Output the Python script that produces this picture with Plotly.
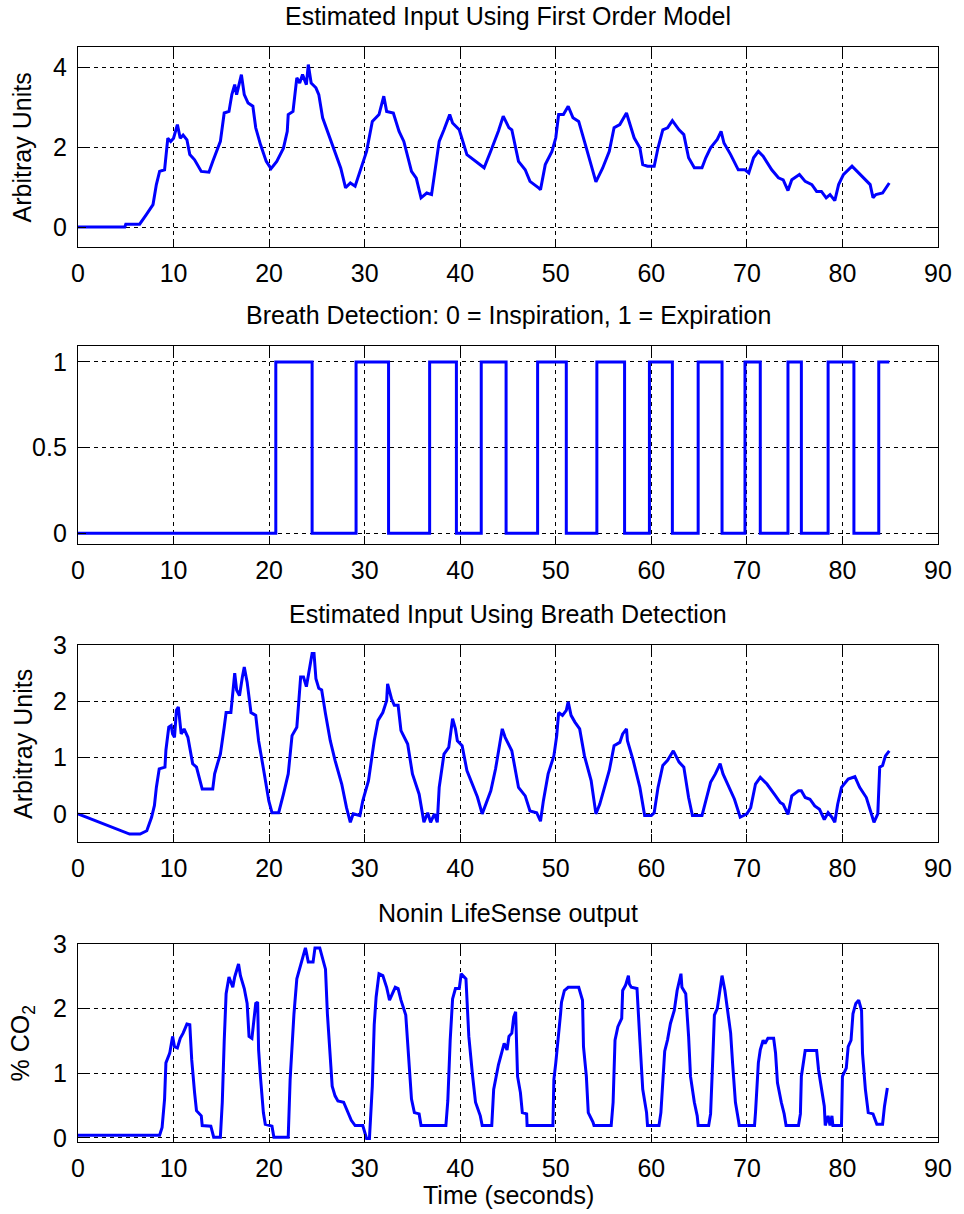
import plotly.graph_objects as go
from plotly.subplots import make_subplots

# ---- Estimated input, first order model (time s, arbitrary units) ----
t_first = [0, 4.9, 5.0, 6.45, 7.15, 7.85, 8.2, 8.54, 9.06, 9.2, 9.4, 9.7, 10.0, 10.4, 10.7, 11.0,
           11.4, 11.7, 12.2, 12.9, 13.7, 14.1, 14.6, 14.9, 15.3, 15.8, 16.1, 16.4, 16.6, 17.1,
           17.4, 17.8, 18.3, 18.6, 19.1, 19.7, 20.2, 20.8, 21.5, 21.9, 22.0, 22.5, 22.9, 23.2,
           23.5, 23.9, 24.1, 24.4, 24.9, 25.2, 25.6, 26.1, 26.8, 27.5, 28.0, 28.5, 29.0, 29.6,
           30.2, 30.8, 31.5, 32.0, 32.3, 33.0, 33.6, 34.1, 34.9, 35.4, 35.9, 36.5, 37.0, 37.3,
           37.8, 38.3, 38.9, 39.2, 39.9, 40.7, 41.8, 42.5, 43.2, 44.0, 44.5, 45.1, 45.4, 46.1,
           46.8, 47.3, 48.2, 48.4, 48.9, 49.6, 50.0, 50.3, 50.8, 51.3, 51.8, 52.4, 53.0, 53.7,
           54.2, 54.9, 55.6, 56.1, 56.7, 57.4, 57.7, 58.2, 58.8, 59.1, 59.6, 60.3, 60.7, 61.2,
           61.7, 62.2, 62.9, 63.4, 63.9, 64.5, 65.3, 65.7, 66.2, 66.9, 67.3, 67.6, 68.3, 69.1,
           69.8, 70.2, 70.7, 71.2, 71.7, 72.6, 73.3, 73.8, 74.3, 74.7, 75.5, 76.1, 76.8, 77.3,
           77.8, 78.3, 78.7, 79.2, 79.6, 80.1, 81.0, 82.2, 82.9, 83.2, 83.5, 84.2, 84.9]
u_first = [0.0, 0.0, 0.07, 0.07, 0.31, 0.56, 1.06, 1.39, 1.43, 1.72, 2.22, 2.14, 2.22, 2.56, 2.22, 2.3,
           2.18, 1.81, 1.68, 1.39, 1.37, 1.64, 1.97, 2.14, 2.85, 2.89, 3.31, 3.56, 3.31, 3.81,
           3.31, 3.1, 3.02, 2.48, 2.06, 1.64, 1.46, 1.64, 1.97, 2.39, 2.81, 2.89, 3.73, 3.6,
           3.81, 3.56, 4.06, 3.6, 3.48, 3.31, 2.73, 2.39, 1.89, 1.47, 0.98, 1.1, 1.02, 1.47,
           1.89, 2.64, 2.81, 3.27, 2.89, 2.85, 2.39, 2.14, 1.39, 1.22, 0.73, 0.85, 0.81, 1.31,
           2.14, 2.43, 2.81, 2.6, 2.43, 1.81, 1.6, 1.48, 1.9, 2.4, 2.77, 2.48, 2.43, 1.64,
           1.43, 1.14, 0.98, 0.93, 1.56, 1.89, 2.23, 2.81, 2.81, 3.02, 2.73, 2.64, 2.14, 1.56,
           1.13, 1.47, 1.89, 2.48, 2.56, 2.85, 2.6, 2.23, 1.98, 1.56, 1.52, 1.52, 1.98, 2.43,
           2.48, 2.66, 2.43, 2.31, 1.73, 1.48, 1.48, 1.73, 1.98, 2.19, 2.39, 2.1, 1.81, 1.43,
           1.43, 1.35, 1.73, 1.89, 1.77, 1.43, 1.23, 1.18, 0.91, 1.18, 1.31, 1.14, 1.06, 0.89,
           0.89, 0.73, 0.81, 0.66, 1.06, 1.31, 1.52, 1.23, 1.06, 0.73, 0.81, 0.85, 1.1]

# ---- Breath detection: 0 = inspiration, 1 = expiration ----
t_breath = [0, 20.7, 24.5, 29.1, 32.5, 36.8, 39.6, 42.2, 44.8, 48.1, 51.1, 54.3, 57.2, 59.8,
            62.2, 64.9, 67.4, 69.8, 71.4, 74.3, 75.7, 78.5, 81.2, 83.8, 84.9]
s_breath = [0, 1, 0, 1, 0, 1, 0, 1, 0, 1, 0, 1, 0, 1,
            0, 1, 0, 1, 0, 1, 0, 1, 0, 1, 1]

# ---- Estimated input using breath detection ----
t_detect = [0, 5.4, 6.5, 7.2, 7.7, 8.0, 8.2, 8.5, 9.1, 9.2, 9.5, 9.75, 9.9, 10.1, 10.3, 10.5,
            10.8, 11.1, 11.5, 12.0, 12.4, 13.0, 14.1, 14.3, 14.6, 14.9, 15.3, 15.5, 16.0, 16.2,
            16.4, 16.6, 16.9, 17.2, 17.4, 17.7, 18.1, 18.6, 18.9, 19.5, 19.97, 20.3, 21.0, 21.5,
            22.0, 22.4, 22.9, 23.3, 23.6, 23.9, 24.2, 24.5, 24.7, 24.9, 25.2, 25.5, 25.9, 26.4,
            26.9, 27.6, 28.1, 28.5, 28.8, 29.5, 29.8, 30.4, 31.0, 31.4, 31.9, 32.3, 32.4, 32.8,
            33.1, 33.5, 33.8, 34.5, 35.0, 35.7, 36.2, 36.6, 36.9, 37.3, 37.6, 37.8, 38.3, 38.8,
            39.2, 39.5, 39.7, 40.2, 40.7, 41.4, 41.8, 42.3, 43.2, 43.7, 44.4, 44.7, 45.4, 46.1,
            46.8, 47.3, 48.0, 48.4, 48.7, 49.2, 49.8, 50.1, 50.3, 50.7, 51.1, 51.3, 51.6, 52.0,
            52.5, 53.0, 53.7, 54.2, 54.6, 55.1, 55.6, 56.1, 56.7, 57.0, 57.4, 57.5, 58.1, 58.8,
            59.3, 60.0, 60.3, 60.7, 61.2, 61.7, 62.3, 62.9, 63.4, 63.9, 64.3, 65.3, 65.7, 66.2,
            66.7, 67.2, 67.5, 68.1, 68.7, 69.3, 70.0, 70.4, 70.9, 71.4, 72.1, 73.0, 73.5, 73.8,
            74.3, 74.7, 75.4, 75.7, 76.1, 76.6, 77.1, 77.6, 78.1, 78.5, 78.9, 79.2, 79.5, 79.9,
            80.6, 81.3, 81.8, 82.5, 83.0, 83.3, 83.7, 83.9, 84.2, 84.5, 84.9]
u_detect = [0.0, -0.36, -0.36, -0.3, -0.06, 0.15, 0.47, 0.8, 0.83, 1.13, 1.54, 1.57, 1.42, 1.36, 1.84, 1.9,
            1.42, 1.51, 1.36, 0.89, 0.83, 0.44, 0.44, 0.71, 0.89, 1.06, 1.54, 1.8, 1.8, 2.2,
            2.5, 2.2, 2.1, 2.43, 2.61, 2.34, 1.8, 1.75, 1.3, 0.71, 0.23, 0.02, 0.02, 0.35,
            0.71, 1.39, 1.54, 2.43, 2.43, 2.26, 2.52, 2.85, 2.85, 2.4, 2.23, 2.2, 1.78, 1.3,
            0.95, 0.53, 0.11, -0.15, 0.0, -0.03, 0.23, 0.59, 1.3, 1.66, 1.8, 2.01, 2.31, 2.05,
            1.93, 1.93, 1.48, 1.24, 0.71, 0.35, -0.15, 0.02, -0.15, 0.0, -0.15, 0.47, 1.06, 1.18,
            1.69, 1.51, 1.3, 1.21, 0.77, 0.47, 0.3, 0.0, 0.41, 0.8, 1.51, 1.36, 1.12, 0.47,
            0.32, 0.05, 0.02, -0.13, 0.23, 0.71, 1.03, 1.39, 1.8, 1.75, 1.84, 1.99, 1.75, 1.63,
            1.51, 1.03, 0.59, 0.0, 0.17, 0.47, 0.77, 1.21, 1.27, 1.42, 1.51, 1.3, 0.95, 0.47,
            -0.03, -0.03, 0.02, 0.47, 0.86, 0.95, 1.12, 0.92, 0.83, 0.29, -0.03, -0.03, 0.23, 0.56,
            0.71, 0.89, 0.71, 0.47, 0.26, -0.06, 0.0, 0.11, 0.53, 0.65, 0.53, 0.32, 0.2, 0.17,
            -0.01, 0.32, 0.41, 0.41, 0.29, 0.26, 0.14, 0.08, -0.1, 0.02, -0.06, -0.15, 0.17, 0.47,
            0.62, 0.66, 0.47, 0.29, 0.0, -0.15, 0.0, 0.83, 0.86, 1.03, 1.12]

# ---- Nonin LifeSense output (% CO2) ----
t_co2 = [0, 8.54, 8.8, 9.06, 9.2, 9.6, 9.9, 10.1, 10.4, 10.7, 11.0, 11.4, 11.7, 11.9, 12.2, 12.4,
         12.9, 13.0, 13.9, 14.2, 14.9, 15.1, 15.3, 15.5, 15.8, 16.2, 16.4, 16.8, 17.0, 17.4,
         17.7, 17.9, 18.2, 18.6, 18.8, 18.9, 19.1, 19.4, 19.6, 20.3, 20.5, 22.0, 22.2, 22.6,
         22.9, 23.4, 23.8, 23.9, 24.1, 24.6, 24.8, 25.3, 25.9, 26.1, 26.4, 26.6, 26.9, 27.2,
         27.8, 28.1, 28.6, 29.0, 29.8, 30.2, 30.5, 30.8, 31.0, 31.2, 31.5, 31.9, 32.3, 32.6,
         32.96, 33.2, 33.5, 33.8, 34.3, 34.5, 34.9, 35.2, 35.7, 35.9, 38.5, 38.7, 38.95, 39.2,
         39.5, 39.9, 40.1, 40.6, 40.9, 41.3, 41.6, 42.1, 42.3, 43.3, 43.5, 44.0, 44.4, 44.6,
         44.9, 45.1, 45.4, 45.6, 45.8, 45.9, 46.0, 46.3, 46.5, 46.95, 47.0, 49.7, 49.8, 50.0,
         50.3, 50.5, 50.6, 50.9, 51.3, 52.4, 52.8, 52.9, 53.2, 53.4, 53.9, 54.0, 55.8, 56.0,
         56.2, 56.5, 56.9, 57.0, 57.3, 57.6, 57.7, 57.9, 58.5, 58.6, 58.8, 59.1, 59.5, 59.6,
         60.8, 61.0, 61.4, 61.7, 62.0, 62.4, 62.7, 63.1, 63.2, 63.6, 63.9, 64.1, 64.5, 64.8,
         64.9, 66.0, 66.2, 66.4, 66.6, 66.9, 67.2, 67.4, 67.7, 67.9, 68.3, 68.5, 68.8, 69.15,
         69.2, 70.8, 70.9, 71.2, 71.4, 71.7, 71.9, 72.2, 72.8, 73.0, 73.2, 73.6, 73.9, 74.1,
         75.4, 75.6, 75.7, 76.1, 77.3, 77.5, 77.8, 78.1, 78.2, 78.5, 78.7, 78.9, 79.0, 79.9,
         80.0, 80.4, 80.6, 80.9, 81.1, 81.4, 81.7, 82.0, 82.1, 82.4, 82.7, 83.2, 83.6, 84.2,
         84.4, 84.7]
co2 = [0.04, 0.04, 0.16, 0.6, 1.16, 1.31, 1.57, 1.41, 1.39, 1.54, 1.62, 1.76, 1.75, 1.21, 0.7, 0.42,
       0.34, 0.19, 0.18, 0.01, 0.01, 0.55, 1.49, 2.23, 2.49, 2.33, 2.49, 2.69, 2.51, 2.31,
       2.08, 1.57, 1.54, 2.08, 2.1, 1.36, 0.93, 0.39, 0.21, 0.18, 0.01, 0.01, 0.9, 1.92,
       2.46, 2.74, 2.94, 2.87, 2.72, 2.72, 2.94, 2.94, 2.61, 1.92, 1.16, 0.8, 0.65, 0.57,
       0.55, 0.44, 0.27, 0.19, 0.19, -0.01, -0.01, 0.8, 1.75, 2.18, 2.54, 2.51, 2.33, 2.13,
       2.25, 2.33, 2.31, 2.13, 1.9, 1.51, 0.6, 0.39, 0.37, 0.19, 0.19, 0.57, 1.51, 2.15,
       2.31, 2.31, 2.54, 2.46, 1.57, 0.95, 0.55, 0.34, 0.19, 0.19, 0.75, 1.13, 1.36, 1.46,
       1.36, 1.57, 1.62, 1.87, 1.95, 1.57, 0.95, 0.7, 0.39, 0.37, 0.19, 0.19, 0.9, 1.16,
       1.57, 1.92, 2.1, 2.28, 2.33, 2.33, 2.13, 1.41, 0.95, 0.39, 0.24, 0.19, 0.19, 0.55,
       1.51, 1.72, 1.85, 2.28, 2.36, 2.51, 2.38, 2.33, 2.31, 2.08, 1.51, 0.75, 0.39, 0.19,
       0.19, 0.39, 1.34, 1.52, 1.77, 1.97, 2.28, 2.54, 2.33, 2.23, 1.57, 0.95, 0.55, 0.34,
       0.19, 0.19, 0.37, 1.11, 1.9, 2.0, 2.31, 2.51, 2.28, 2.08, 1.62, 1.16, 0.55, 0.24,
       0.19, 0.19, 0.39, 1.16, 1.36, 1.51, 1.46, 1.54, 1.54, 1.31, 0.85, 0.55, 0.37, 0.19,
       0.19, 0.37, 0.95, 1.35, 1.35, 1.05, 0.75, 0.49, 0.19, 0.34, 0.19, 0.34, 0.19, 0.19,
       0.95, 1.08, 1.41, 1.51, 1.92, 2.08, 2.13, 1.97, 1.31, 0.75, 0.39, 0.37, 0.21, 0.21,
       0.49, 0.77]

titles = ["Estimated Input Using First Order Model",
          "Breath Detection: 0 = Inspiration, 1 = Expiration",
          "Estimated Input Using Breath Detection",
          "Nonin LifeSense output"]
y_titles = ["Arbitray Units", None, "Arbitray Units", "% CO<sub>2</sub>"]
x_ticks = [0, 10, 20, 30, 40, 50, 60, 70, 80, 90]
y_ticks = [[0, 2, 4], [0, 0.5, 1], [0, 1, 2, 3], [0, 1, 2, 3]]
y_ranges = [[-0.5, 4.5], [-0.063, 1.093], [-0.5, 3.0], [-0.065, 3.0]]
x_title = "Time (seconds)"

# ---- page geometry (pixels) ----
W, H = 964, 1214
M_L, M_R, M_T, M_B = 78, 20, 47, 72
plot_h = H - M_T - M_B
boxes = [(47, 247), (346, 544), (645, 842), (944, 1142)]  # top, bottom in page px


def to_paper(ypix):
    return (H - M_B - ypix) / plot_h


FONT = "Liberation Sans, Arial, Helvetica, sans-serif"
FS = 25
BLUE = "#0000ff"

fig = make_subplots(rows=4, cols=1)

series = [(t_first, u_first, "linear"), (t_breath, s_breath, "hv"),
          (t_detect, u_detect, "linear"), (t_co2, co2, "linear")]
for i, (tx, vy, shape) in enumerate(series):
    fig.add_trace(go.Scatter(x=tx, y=vy, mode="lines", line=dict(color=BLUE, width=3, shape=shape),
                             showlegend=False, hoverinfo="skip"), row=i + 1, col=1)

axis_common = dict(showline=True, linecolor="black", linewidth=1.3, mirror="ticks",
                   ticks="inside", ticklen=8, tickwidth=1.3, tickcolor="black",
                   showgrid=True, gridcolor="black", gridwidth=1.2, griddash="4px,4px",
                   zeroline=False, tickfont=dict(family=FONT, size=FS, color="black"))

annotations = []
for i in range(4):
    top, bot = boxes[i]
    xa = "xaxis" if i == 0 else f"xaxis{i + 1}"
    ya = "yaxis" if i == 0 else f"yaxis{i + 1}"
    fig.layout[xa].update(domain=[0, 1], range=[0, 90], tickvals=x_ticks,
                          ticklabelstandoff=4, **axis_common)
    fig.layout[ya].update(domain=[to_paper(bot), to_paper(top)], range=y_ranges[i],
                          tickvals=y_ticks[i], ticklabelstandoff=5, **axis_common)
    annotations.append(dict(text=titles[i], xref="paper", yref="paper", x=0.5, y=to_paper(top),
                            xanchor="center", yanchor="bottom", yshift=15, showarrow=False,
                            font=dict(family=FONT, size=FS, color="black")))
    if y_titles[i]:
        annotations.append(dict(text=y_titles[i], xref="paper", yref="paper",
                                x=(22 - M_L) / (W - M_L - M_R), y=to_paper((top + bot) / 2),
                                xanchor="center", yanchor="middle", textangle=-90, showarrow=False,
                                font=dict(family=FONT, size=FS, color="black")))

annotations.append(dict(text=x_title, xref="paper", yref="paper", x=0.5, y=to_paper(1195),
                        xanchor="center", yanchor="middle", showarrow=False,
                        font=dict(family=FONT, size=FS, color="black")))

fig.update_layout(width=W, height=H, margin=dict(l=M_L, r=M_R, t=M_T, b=M_B),
                  paper_bgcolor="white", plot_bgcolor="white", annotations=annotations)

fig.write_html("out.html")
